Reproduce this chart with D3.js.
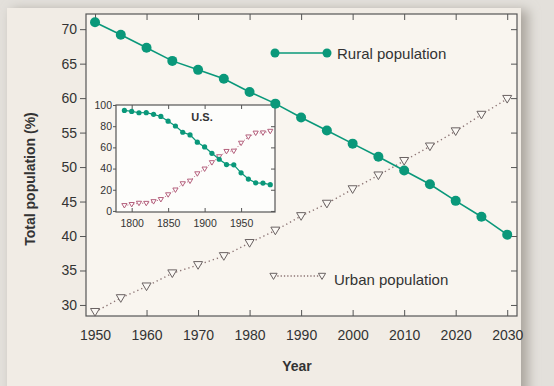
<!DOCTYPE html>
<html>
  <head>
    <meta charset="utf-8">
    <script type="text/javascript" src="https://cdn.jsdelivr.net/npm/d3@7"></script>
    <style>
      body { margin: 0; background: #e3e0db; }
      svg { display: block; font-family: "Liberation Sans", Arial, sans-serif; }
    </style>
  </head>
  <body>
    <script type="text/javascript">
      var w = 554;
      var h = 386;

      // main chart data (world, %)
      var years = [1950, 1955, 1960, 1965, 1970, 1975, 1980, 1985, 1990, 1995,
                   2000, 2005, 2010, 2015, 2020, 2025, 2030];
      var rural = [71.0, 69.2, 67.3, 65.4, 64.1, 62.8, 60.9, 59.2, 57.2, 55.3,
                   53.4, 51.5, 49.5, 47.5, 45.1, 42.8, 40.2];
      var urban = [29.0, 31.0, 32.7, 34.6, 35.8, 37.1, 39.0, 40.8, 42.9, 44.7,
                   46.8, 48.8, 50.9, 53.0, 55.2, 57.6, 59.9];
      var xTicks = [1950, 1960, 1970, 1980, 1990, 2000, 2010, 2020, 2030];
      var yTicks = [30, 35, 40, 45, 50, 55, 60, 65, 70];

      // inset data (U.S., %)
      var usYears = [1790, 1800, 1810, 1820, 1830, 1840, 1850, 1860, 1870, 1880, 1890,
                     1900, 1910, 1920, 1930, 1940, 1950, 1960, 1970, 1980, 1990];
      var usRural = [94.9, 93.9, 92.7, 92.8, 91.2, 89.2, 84.7, 80.2, 74.3, 71.8, 64.9,
                     60.4, 54.4, 48.8, 43.8, 43.5, 36.0, 30.1, 26.5, 26.3, 24.8];
      var usUrban = [5.1, 6.1, 7.3, 7.2, 8.8, 10.8, 15.3, 19.8, 25.7, 28.2, 35.1,
                     39.6, 45.6, 51.2, 56.2, 56.5, 64.0, 69.9, 73.5, 73.7, 75.2];
      var usXTicks = [1800, 1850, 1900, 1950];
      var usYTicks = [0, 20, 40, 60, 80, 100];

      var green = "#0a987a";
      var urbanStroke = "#6a6262";
      var pink = "#b4607c";
      var font = "Liberation Sans, Arial, sans-serif";

      var svg = d3.select("body").append("svg")
        .attr("width", w)
        .attr("height", h);

      // background panel with soft shadow
      var defs = svg.append("defs");
      var f = defs.append("filter").attr("id", "sh").attr("x", "-10%").attr("y", "-10%")
        .attr("width", "130%").attr("height", "130%");
      f.append("feGaussianBlur").attr("stdDeviation", 6);
      svg.append("rect").attr("x", 12).attr("y", 10).attr("width", 516).attr("height", 390)
        .attr("fill", "#aaa59d").attr("filter", "url(#sh)");
      svg.append("rect").attr("x", 7).attr("y", 8).attr("width", 514).attr("height", 390)
        .attr("fill", "#f1ece5");

      // main scales
      var m = { left: 86, right: 517, top: 14, bottom: 316 };
      var x = d3.scaleLinear().domain([1948.25, 2031.9]).range([m.left, m.right]);
      var y = d3.scaleLinear().domain([28.4, 72.2]).range([m.bottom, m.top]);

      svg.append("rect")
        .attr("x", m.left).attr("y", m.top)
        .attr("width", m.right - m.left).attr("height", m.bottom - m.top)
        .attr("fill", "#f9f5ef");

      var axisColor = "#555";
      function styleAxis(g, size) {
        g.attr("font-family", font).attr("font-size", size || 10);
        g.select(".domain").remove();
        g.selectAll("line").attr("stroke", axisColor);
        g.selectAll("text").attr("fill", "#333");
      }

      // bottom, top, left, right axes
      svg.append("g").attr("transform", "translate(0," + m.bottom + ")")
        .call(d3.axisBottom(x).tickValues(xTicks).tickFormat(d3.format("d")).tickSizeInner(-6).tickPadding(14))
        .call(styleAxis, 14);
      svg.append("g").attr("transform", "translate(0," + m.top + ")")
        .call(d3.axisTop(x).tickValues(xTicks).tickSizeInner(-6).tickFormat(""))
        .call(styleAxis);
      svg.append("g").attr("transform", "translate(" + m.left + ",0)")
        .call(d3.axisLeft(y).tickValues(yTicks).tickSizeInner(6).tickPadding(3))
        .call(styleAxis, 14);
      svg.append("g").attr("transform", "translate(" + m.right + ",0)")
        .call(d3.axisRight(y).tickValues(yTicks).tickSizeInner(-6).tickFormat(""))
        .call(styleAxis);

      svg.append("rect")
        .attr("x", m.left).attr("y", m.top)
        .attr("width", m.right - m.left).attr("height", m.bottom - m.top)
        .attr("fill", "none").attr("stroke", axisColor).attr("stroke-width", 1.2);

      // axis titles
      svg.append("text").text("Year")
        .attr("x", 297).attr("y", 371)
        .attr("text-anchor", "middle").attr("font-size", 14).attr("font-weight", "bold").attr("fill", "#333");
      svg.append("text").text("Total population (%)")
        .attr("transform", "translate(35,179) rotate(-90)")
        .attr("text-anchor", "middle").attr("font-size", 14).attr("font-weight", "bold").attr("fill", "#333");

      function tri(cx, cy, s) {
        return "M" + (cx - s) + "," + (cy - s * 0.75) + "L" + (cx + s) + "," + (cy - s * 0.75) +
               "L" + cx + "," + (cy + s * 0.95) + "Z";
      }

      // ---- inset ----
      var ins = { left: 116, right: 275, top: 105, bottom: 212 };
      var ix = d3.scaleLinear().domain([1778.5, 1996.5]).range([ins.left, ins.right]);
      var iy = d3.scaleLinear().domain([-1, 100]).range([ins.bottom, ins.top]);

      svg.append("rect")
        .attr("x", ins.left).attr("y", ins.top)
        .attr("width", ins.right - ins.left).attr("height", ins.bottom - ins.top)
        .attr("fill", "#fdfdfb");

      svg.append("g").attr("transform", "translate(0," + ins.bottom + ")")
        .call(d3.axisBottom(ix).tickValues(usXTicks).tickFormat(d3.format("d")).tickSizeInner(-4).tickPadding(8))
        .call(styleAxis, 10.5);
      svg.append("g").attr("transform", "translate(0," + ins.top + ")")
        .call(d3.axisTop(ix).tickValues(usXTicks).tickSizeInner(-4).tickFormat(""))
        .call(styleAxis);
      svg.append("g").attr("transform", "translate(" + ins.left + ",0)")
        .call(d3.axisLeft(iy).tickValues(usYTicks).tickSizeInner(3).tickPadding(1))
        .call(styleAxis, 10.5);
      svg.append("g").attr("transform", "translate(" + ins.right + ",0)")
        .call(d3.axisRight(iy).tickValues(usYTicks).tickSizeInner(-4).tickFormat(""))
        .call(styleAxis);
      svg.append("rect")
        .attr("x", ins.left).attr("y", ins.top)
        .attr("width", ins.right - ins.left).attr("height", ins.bottom - ins.top)
        .attr("fill", "none").attr("stroke", axisColor).attr("stroke-width", 1.2);

      svg.append("text").text("U.S.")
        .attr("x", 202).attr("y", 121)
        .attr("text-anchor", "middle").attr("font-size", 11).attr("font-weight", "bold").attr("fill", "#333");

      var usU = usYears.map(function(d, i) { return [d, usUrban[i]]; });
      var usR = usYears.map(function(d, i) { return [d, usRural[i]]; });
      var iline = d3.line().x(function(d) { return ix(d[0]); }).y(function(d) { return iy(d[1]); });

      svg.append("path").datum(usU).attr("d", iline)
        .attr("fill", "none").attr("stroke", pink).attr("stroke-width", 1).attr("stroke-dasharray", "1,2");
      svg.append("g").selectAll("path").data(usU).enter().append("path")
        .attr("d", function(d) { return tri(ix(d[0]), iy(d[1]), 2.6); })
        .attr("fill", "#fff").attr("stroke", pink).attr("stroke-width", 1);

      svg.append("path").datum(usR).attr("d", iline)
        .attr("fill", "none").attr("stroke", green).attr("stroke-width", 1.2);
      svg.append("g").selectAll("circle").data(usR).enter().append("circle")
        .attr("cx", function(d) { return ix(d[0]); })
        .attr("cy", function(d) { return iy(d[1]); })
        .attr("r", 2.6).attr("fill", green);

      // ---- main series ----
      var ruralPts = years.map(function(d, i) { return [d, rural[i]]; });
      var urbanPts = years.map(function(d, i) { return [d, urban[i]]; });
      var line = d3.line().x(function(d) { return x(d[0]); }).y(function(d) { return y(d[1]); });

      svg.append("path").datum(urbanPts).attr("d", line)
        .attr("fill", "none").attr("stroke", "#8c7474").attr("stroke-width", 1.4).attr("stroke-dasharray", "1.3,3");
      svg.append("g").selectAll("path").data(urbanPts).enter().append("path")
        .attr("d", function(d) { return tri(x(d[0]), y(d[1]), 4.5); })
        .attr("fill", "#fbf8f4").attr("stroke", urbanStroke).attr("stroke-width", 1);

      svg.append("path").datum(ruralPts).attr("d", line)
        .attr("fill", "none").attr("stroke", green).attr("stroke-width", 1.6);
      svg.append("g").selectAll("circle").data(ruralPts).enter().append("circle")
        .attr("cx", function(d) { return x(d[0]); })
        .attr("cy", function(d) { return y(d[1]); })
        .attr("r", 5).attr("fill", green);

      // ---- legends ----
      svg.append("line").attr("x1", 275).attr("x2", 327).attr("y1", 53).attr("y2", 53)
        .attr("stroke", green).attr("stroke-width", 1.6);
      svg.append("circle").attr("cx", 275).attr("cy", 53).attr("r", 4.5).attr("fill", green);
      svg.append("circle").attr("cx", 327).attr("cy", 53).attr("r", 4.5).attr("fill", green);
      svg.append("text").text("Rural population")
        .attr("x", 337).attr("y", 58.5).attr("font-size", 15).attr("fill", "#333");

      svg.append("line").attr("x1", 274).attr("x2", 322).attr("y1", 276).attr("y2", 276)
        .attr("stroke", "#8c7474").attr("stroke-width", 1.3).attr("stroke-dasharray", "1.3,2");
      svg.append("path").attr("d", tri(273.5, 276, 3.6))
        .attr("fill", "#fbf8f4").attr("stroke", urbanStroke).attr("stroke-width", 1);
      svg.append("path").attr("d", tri(322, 276, 3.6))
        .attr("fill", "#fbf8f4").attr("stroke", urbanStroke).attr("stroke-width", 1);
      svg.append("text").text("Urban population")
        .attr("x", 334).attr("y", 285).attr("font-size", 15).attr("fill", "#333");
    </script>
  </body>
</html>
